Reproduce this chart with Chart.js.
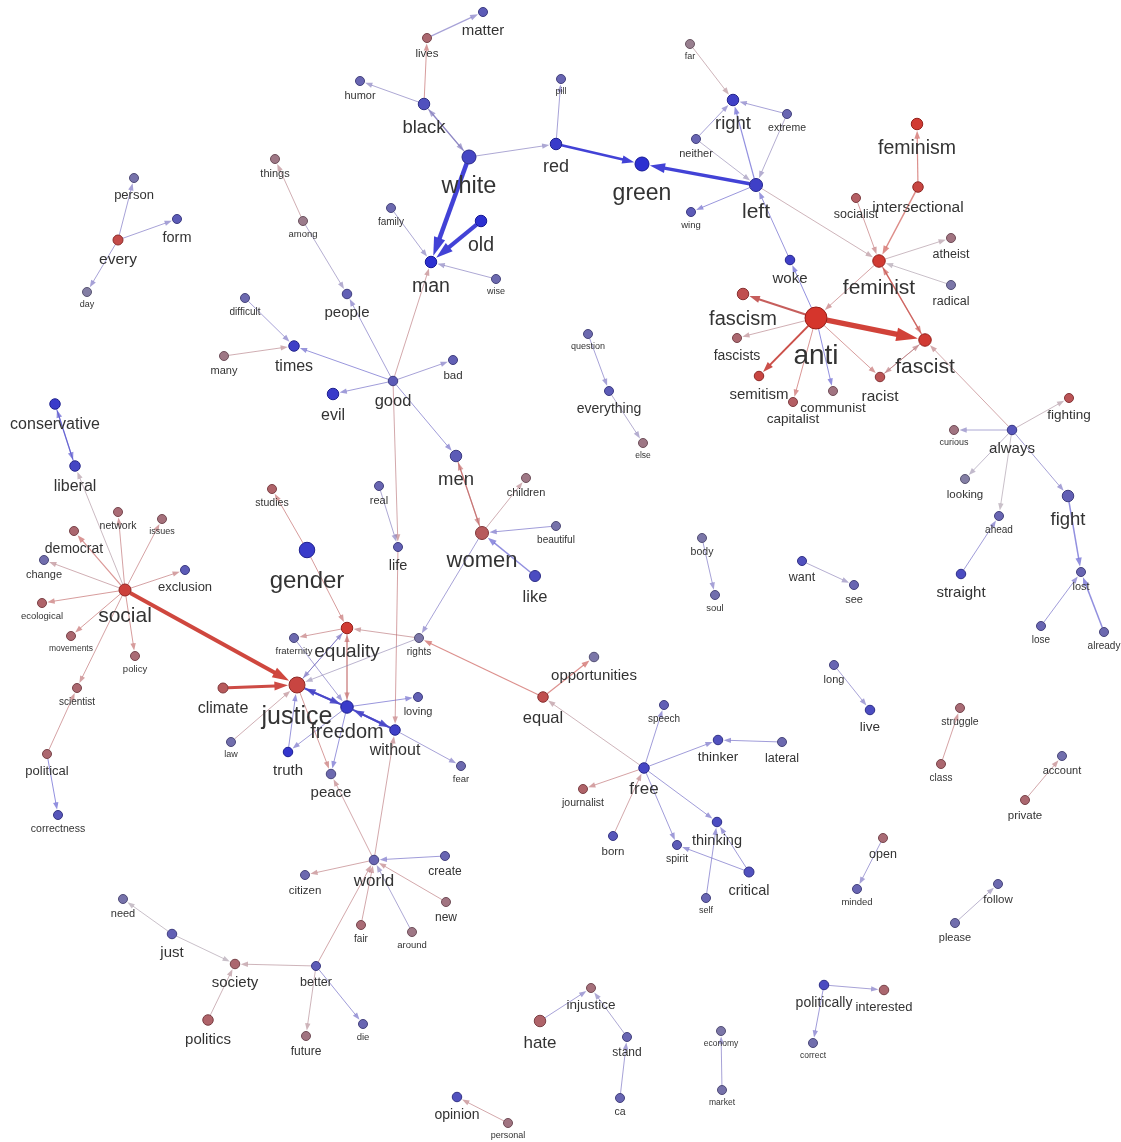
<!DOCTYPE html>
<html><head><meta charset="utf-8">
<script src="https://cdn.jsdelivr.net/npm/chart.js@4.4.1/dist/chart.umd.min.js"></script>
<style>html,body{margin:0;padding:0;background:#fff;overflow:hidden}canvas{display:block}</style>
</head><body>
<canvas id="c" width="1121" height="1142"></canvas>
<script>
// ---- nodes (word network) ----
const words = ['person','form','every','day','things','among','people','difficult','times','many',
'humor','matter','lives','black','white','red','pill','green','family','old',
'man','wise','far','right','neither','extreme','left','wing','feminism','intersectional',
'socialist','atheist','woke','feminist','radical','fascism','anti','fascists','fascist','semitism',
'racist','communist','capitalist','question','everything','else','good','bad','evil','conservative',
'liberal','men','real','children','studies','network','issues','democrat','beautiful','women',
'life','gender','change','exclusion','like','social','ecological','movements','policy','scientist',
'political','correctness','equality','fraternity','rights','justice','climate','freedom','loving','without',
'law','truth','peace','fear','opportunities','equal','speech','thinker','lateral','free',
'journalist','born','spirit','thinking','critical','self','body','soul','want','see',
'fighting','always','curious','looking','fight','ahead','straight','lost','lose','already',
'long','live','struggle','class','account','private','open','minded','follow','please',
'politically','interested','correct','world','citizen','create','new','fair','around','need',
'just','society','better','politics','future','die','injustice','hate','stand','ca',
'economy','market','opinion','personal'];

const nodeX = [134,177,118,87,275,303,347,245,294,224,
360,483,427,424,469,556,561,642,391,481,
431,496,690,733,696,787,756,691,917,918,
856,951,790,879,951,743,816,737,925,759,
880,833,793,588,609,643,393,453,333,55,
75,456,379,526,272,118,162,74,556,482,
398,307,44,185,535,125,42,71,135,77,
47,58,347,294,419,297,223,347,418,395,
231,288,331,461,594,543,664,718,782,644,
583,613,677,717,749,706,702,715,802,854,
1069,1012,954,965,1068,999,961,1081,1041,1104,
834,870,960,941,1062,1025,883,857,998,955,
824,884,813,374,305,445,446,361,412,123,
172,235,316,208,306,363,591,540,627,620,
721,722,457,508];

const nodeY = [178,219,240,292,159,221,294,298,346,356,
81,12,38,104,157,144,79,164,208,221,
262,279,44,100,139,114,185,212,124,187,
198,238,260,261,285,294,318,338,340,376,
377,391,402,334,391,443,381,360,394,404,
466,456,486,478,489,512,519,531,526,533,
547,550,560,570,576,590,603,636,656,688,
754,815,628,638,638,685,688,707,697,730,
742,752,774,766,657,697,705,740,742,768,
789,836,845,822,872,898,538,595,561,585,
398,430,430,479,496,516,574,572,626,632,
665,710,708,764,756,800,838,889,884,923,
985,990,1043,860,875,856,902,925,932,899,
934,964,966,1020,1036,1024,988,1021,1037,1098,
1031,1090,1097,1123];

// polarity: -1 (blue) .. +1 (red)
const polarity = [-0.35,-0.6,0.8,-0.2,0.3,0.25,-0.55,-0.45,-0.85,0.3,
-0.5,-0.6,0.5,-0.7,-0.8,-0.9,-0.5,-1,-0.45,-1,
-1,-0.45,0.2,-0.85,-0.5,-0.5,-0.85,-0.6,0.95,0.85,
0.6,0.35,-0.85,0.95,-0.3,0.75,1,0.5,0.95,0.85,
0.7,0.35,0.6,-0.45,-0.6,0.3,-0.6,-0.55,-0.9,-0.9,
-0.8,-0.6,-0.5,0.3,0.55,0.45,0.4,0.5,-0.35,0.65,
-0.55,-0.9,-0.4,-0.6,-0.75,0.9,0.55,0.5,0.45,0.5,
0.5,-0.65,0.95,-0.45,-0.3,0.85,0.65,-0.9,-0.55,-0.85,
-0.4,-0.95,-0.45,-0.45,-0.3,0.75,-0.55,-0.7,-0.45,-0.8,
0.55,-0.65,-0.6,-0.75,-0.7,-0.5,-0.3,-0.4,-0.7,-0.5,
0.7,-0.65,0.35,-0.2,-0.55,-0.5,-0.75,-0.5,-0.5,-0.45,
-0.5,-0.75,0.45,0.5,-0.4,0.5,0.45,-0.5,-0.45,-0.4,
-0.75,0.5,-0.4,-0.5,-0.45,-0.5,0.35,0.45,0.3,-0.35,
-0.55,0.5,-0.6,0.55,0.35,-0.5,0.4,0.55,-0.5,-0.5,
-0.3,-0.35,-0.7,0.35];

// node weight (drives marker size)
const nodeWeight = [6,6,8,6,6,6,7,6,9,6,
6,6,6,11,16,11,6,16,6,11,
11,6,6,11,6,6,14,6,11,9,
6,6,7,13,6,11,32,6,13,7,
7,6,6,6,6,6,7,6,11,9,
9,11,6,6,6,6,6,6,6,14,
6,19,6,6,10,12,6,6,6,6,
6,6,11,6,6,20,8,13,6,9,
6,7,7,6,7,9,6,7,6,9,
6,6,6,7,8,6,6,6,6,6,
6,7,6,6,11,6,7,6,6,6,
6,7,6,6,6,6,6,6,6,6,
7,7,6,7,6,6,6,6,6,6,
7,7,6,9,6,6,6,11,6,6,
6,6,7,6];

// term count (drives label size)
const termCount = [14,17,19,6,10,7,18,8,20,10,
10,18,11,25,35,24,6,34,8,27,
27,6,6,25,10,9,30,7,27,19,
13,13,18,30,13,28,44,16,30,18,
19,15,15,6,16,5,21,11,20,20,
20,25,10,10,9,9,6,16,8,32,
17,36,10,14,21,30,7,5,7,8,
14,9,26,7,8,38,20,28,10,20,
6,18,18,7,18,21,8,15,13,22,
9,11,9,17,17,6,9,7,13,10,
15,18,6,11,25,8,18,10,8,8,
10,15,9,8,10,11,13,7,11,10,
16,14,5,22,11,12,12,8,7,10,
18,18,13,18,12,7,15,22,12,9,
5,5,16,6];

// ---- edges ----
const edgeFrom = ['every','every','every','among','among','good','difficult','many','good','good',
'good','good','good','good','family','wise','white','old','black','white',
'black','lives','black','white','red','red','left','far','neither','left',
'extreme','extreme','neither','left','left','anti','woke','anti','anti','anti',
'anti','anti','anti','anti','feminist','racist','fascist','feminist','fascist','always',
'socialist','intersectional','intersectional','feminist','radical','question','everything','always','always','always',
'always','always','fight','lose','already','straight','want','long','class','private',
'open','please','politically','politically','body','social','conservative','liberal','social','social',
'social','social','social','social','social','social','social','political','social','political',
'gender','gender','equality','rights','equality','freedom','justice','equality','climate','law',
'truth','freedom','justice','freedom','freedom','justice','freedom','without','freedom','without',
'life','world','world','fraternity','rights','women','equal','equal','free','men',
'women','women','beautiful','like','real','free','free','lateral','free','born',
'free','free','critical','self','critical','world','create','new','around','fair',
'better','better','just','just','politics','better','better','hate','stand','ca',
'market','personal'];

const edgeTo = ['person','form','day','things','people','people','times','times','times','evil',
'bad','men','life','man','man','man','man','man','white','black',
'lives','matter','humor','red','pill','green','green','right','right','right',
'right','left','left','wing','feminist','woke','left','communist','fascism','fascists',
'semitism','capitalist','racist','fascist','anti','fascist','racist','fascist','feminist','fascist',
'feminist','feminist','feminism','atheist','feminist','everything','else','fighting','curious','looking',
'ahead','fight','lost','lost','lost','ahead','see','live','struggle','account',
'minded','follow','interested','correct','soul','liberal','liberal','conservative','network','issues',
'democrat','change','exclusion','ecological','movements','policy','scientist','scientist','justice','correctness',
'studies','equality','fraternity','equality','freedom','equality','equality','justice','justice','justice',
'justice','justice','freedom','truth','peace','peace','loving','freedom','without','fear',
'without','without','peace','freedom','justice','rights','rights','opportunities','equal','women',
'men','children','women','women','life','speech','thinker','thinker','journalist','free',
'spirit','thinking','thinking','thinking','spirit','citizen','world','world','world','world',
'world','society','society','need','society','future','die','injustice','injustice','stand',
'economy','opinion'];

const edgeTone = [-0.5,-0.5,-0.5,0.3,-0.3,-0.5,-0.5,0.3,-0.7,-0.6,
-0.5,-0.6,0.4,0.4,-0.4,-0.4,-1,-1,-0.4,-0.4,
0.6,-0.5,-0.4,-0.4,-0.5,-1,-1,0.2,-0.5,-0.8,
-0.5,-0.3,-0.2,-0.7,0.2,-0.8,-0.7,-0.8,0.7,0.3,
0.85,0.7,0.6,1,0.5,0.4,0.4,0.8,0.8,0.4,
0.5,0.85,0.8,0.1,0,-0.5,-0.3,0.1,-0.4,-0.1,
0,-0.5,-0.8,-0.6,-0.8,-0.6,-0.3,-0.5,0.5,0.4,
-0.5,-0.2,-0.5,-0.6,-0.5,0.1,-0.8,-0.8,0.5,0.5,
0.7,0.3,0.5,0.6,0.6,0.6,0.5,0.5,0.95,-0.8,
0.6,0.6,0.5,0.4,0.6,0.6,-0.5,-0.5,0.9,0.3,
-0.7,-0.8,-0.8,-0.6,-0.7,0.6,-0.7,-0.8,-0.8,-0.5,
0.5,0.4,0.4,-0.5,-0.2,-0.5,0.8,0.8,0.2,0.6,
0.6,0.3,-0.6,-0.8,-0.4,-0.6,-0.6,-0.6,0.5,0.4,
-0.6,-0.6,-0.6,-0.6,-0.6,0.4,-0.6,0.4,-0.4,0.4,
0.4,0.2,0,0,0.2,0.2,-0.6,-0.5,-0.4,-0.5,
-0.5,0.4];

const edgeStrength = [1,1,1,1,1,1,1,1,1,1,
1,1,1,1,1,1,4.5,4,1.2,1.2,
1,1.2,1,1,1,2.5,3.5,1,1,1.2,
1,1,1,1,1,1,1,1,2,1,
2,1,1,5.5,1,1,1,1.2,1.2,1,
1,1.5,1.2,1,1,1,1,1,1,1,
1,1,1.5,1,1.5,1,1,1,1,1,
1,1,1,1,1,1,1.2,1.2,1,1,
1.2,1,1,1,1,1,1,1,4,1,
1,1,1,1,1,1,1,1,3,1,
1,2,2,1,1,1,1,2,2,1,
1,1,1,1,1,1,1.2,1.2,1,1.2,
1.2,1,1,1.5,1,1,1,1,1,1,
1,1,1,1,1,1,1,1,1,1,
1,1,1,1,1,1,1,1,1,1,
1,1];

// ---- styling helpers ----
const idx = {}; words.forEach((w,i)=>{idx[w]=i;});
const mix = (a,b,t)=>a.map((v,k)=>Math.round(v+(b[k]-v)*t));
function nodeRGB(p){
  const t = Math.pow(Math.min(1,Math.abs(p)),1.3);
  return mix([135,128,150], p<0?[28,32,205]:[210,38,28], t);
}
function edgeRGB(p){
  const t = Math.min(1,Math.abs(p));
  return mix([165,150,165], p<0?[50,50,210]:[205,50,40], t);
}
const radius = i => 3 + nodeWeight[i]/4;
const fontPx = i => 6 + termCount[i]/2;

const edgePlugin = {
  id:'edges',
  beforeDatasetsDraw(chart){
    const {ctx} = chart; const sx = chart.scales.x, sy = chart.scales.y;
    ctx.save();
    for(let e=0;e<edgeFrom.length;e++){
      const a = idx[edgeFrom[e]], b = idx[edgeTo[e]];
      const x1 = sx.getPixelForValue(nodeX[a]), y1 = sy.getPixelForValue(nodeY[a]);
      const x2 = sx.getPixelForValue(nodeX[b]), y2 = sy.getPixelForValue(nodeY[b]);
      const dx = x2-x1, dy = y2-y1, len = Math.hypot(dx,dy);
      const ux = dx/len, uy = dy/len;
      const w = edgeStrength[e];
      const rT = radius(b)+1;
      const tipX = x2-ux*rT, tipY = y2-uy*rT;
      const hl = 4+3.2*w, hw = 1.8+0.9*w;
      const bX = tipX-ux*hl, bY = tipY-uy*hl;
      const c = edgeRGB(edgeTone[e]);
      const alpha = w>=2 ? 0.92 : 0.6;
      const col = `rgba(${c[0]},${c[1]},${c[2]},${alpha})`;
      ctx.strokeStyle = col; ctx.fillStyle = col; ctx.lineWidth = w;
      ctx.beginPath();
      ctx.moveTo(x1+ux*radius(a), y1+uy*radius(a));
      ctx.lineTo(bX+ux*0.5, bY+uy*0.5);
      ctx.stroke();
      ctx.beginPath();
      ctx.moveTo(tipX,tipY);
      ctx.lineTo(bX-uy*hw, bY+ux*hw);
      ctx.lineTo(bX+uy*hw, bY-ux*hw);
      ctx.closePath(); ctx.fill();
    }
    ctx.restore();
  }
};

const labelPlugin = {
  id:'labels',
  afterDatasetsDraw(chart){
    const {ctx} = chart; const sx = chart.scales.x, sy = chart.scales.y;
    ctx.save();
    ctx.fillStyle = '#333333'; ctx.textAlign='center'; ctx.textBaseline='middle';
    words.forEach((w,i)=>{
      const fs = fontPx(i);
      ctx.font = `${fs}px "Liberation Sans", Arial, sans-serif`;
      ctx.fillText(w, sx.getPixelForValue(nodeX[i]), sy.getPixelForValue(nodeY[i]) + radius(i) + fs - 0.5);
    });
    ctx.restore();
  }
};

new Chart(document.getElementById('c'), {
  type:'scatter',
  data:{ datasets:[{
    data: words.map((w,i)=>({x:nodeX[i], y:nodeY[i]})),
    pointRadius: words.map((w,i)=>radius(i)),
    pointBackgroundColor: words.map((w,i)=>{const c=nodeRGB(polarity[i]);return `rgba(${c[0]},${c[1]},${c[2]},0.93)`;}),
    pointBorderColor: words.map((w,i)=>{const c=nodeRGB(polarity[i]).map(v=>Math.round(v*0.72));return `rgb(${c[0]},${c[1]},${c[2]})`;}),
    pointBorderWidth: 1,
    clip: false
  }]},
  options:{
    responsive:false, animation:false, events:[],
    layout:{padding:0, autoPadding:false},
    scales:{
      x:{type:'linear', display:false, min:0, max:1121},
      y:{type:'linear', display:false, min:0, max:1142, reverse:true}
    },
    plugins:{legend:{display:false}, tooltip:{enabled:false}}
  },
  plugins:[edgePlugin, labelPlugin]
});
</script>
</body></html>
